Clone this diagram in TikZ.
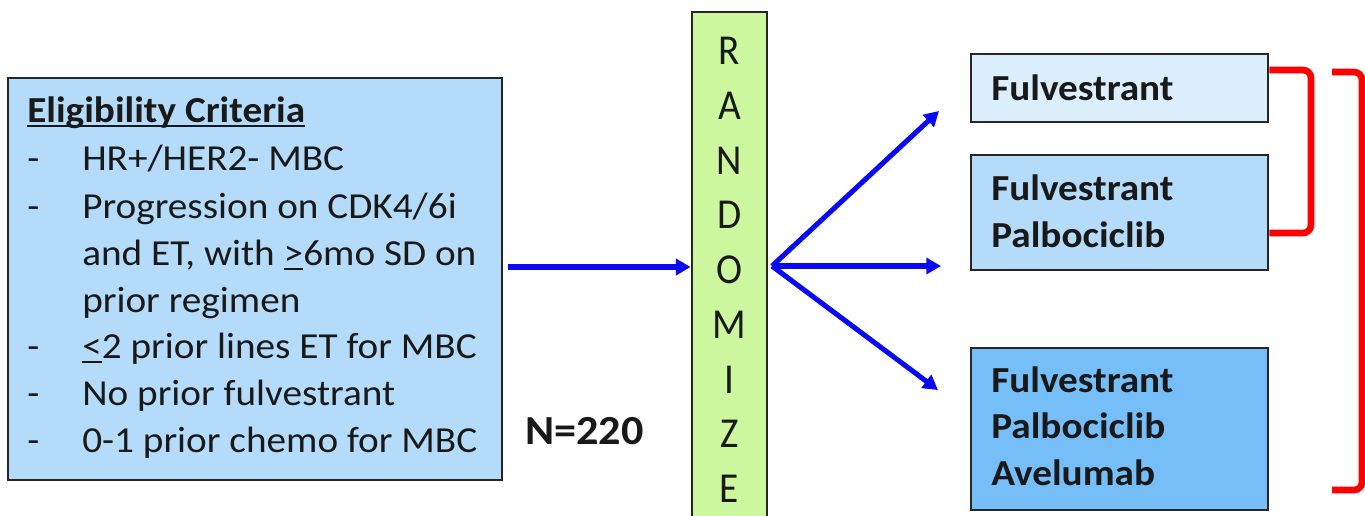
\documentclass[tikz,border=0pt]{standalone}
\usepackage{fontspec}
\setmainfont[FakeStretch=1.07]{Carlito}
\usetikzlibrary{arrows.meta}
\definecolor{eligfill}{HTML}{B4DCFA}
\definecolor{armone}{HTML}{DAEEFC}
\definecolor{armtwo}{HTML}{B4DCFA}
\definecolor{armthree}{HTML}{76BEF8}
\definecolor{randfill}{HTML}{CCF79E}
\definecolor{arrblue}{HTML}{0A0AF0}
\definecolor{brred}{HTML}{FF0000}
\newsavebox{\ulbox}
\newcommand{\thickul}[1]{\sbox{\ulbox}{#1}\leavevmode\rlap{\rule[-3.6pt]{\wd\ulbox}{1.6pt}}\usebox{\ulbox}}
\newcommand{\randletter}[1]{\scalebox{0.86}[1]{\fontsize{32}{36}\selectfont #1}}
\tikzset{
  boxbase/.style={draw=black!85, line width=2.1pt, rectangle, inner sep=0pt},
  bodytxt/.style={font=\fontsize{27.5}{33}\selectfont, anchor=base west, inner sep=0pt, text=black!90},
  armtxt/.style={font=\fontsize{27.5}{33}\selectfont\bfseries, anchor=base west, inner sep=0pt, text=black!90},
  randtxt/.style={anchor=base, inner sep=0pt, text=black!90},
  bluearrow/.style={draw=arrblue, line width=3.8pt, -{Triangle[length=11pt,width=12pt]}},
  redbracket/.style={draw=brred, line width=5pt, rounded corners=6pt}
}
\begin{document}
\begin{tikzpicture}[x=0.75pt,y=-0.75pt]
\useasboundingbox (0,0) rectangle (1365,515);
% eligibility box
\node[boxbase, fill=eligfill, minimum width=370.5pt, minimum height=301.5pt] (elig) at (255,279) {};
\node[bodytxt] (title) at (27,122) {\thickul{\textbf{Eligibility Criteria}}};
\node[bodytxt] (d1) at (27,170) {-};
\node[bodytxt] (c1) at (82,170) {HR+/HER2- MBC};
\node[bodytxt] (d2) at (27,218) {-};
\node[bodytxt] (c2a) at (82,218) {Progression on CDK4/6i};
\node[bodytxt] (c2b) at (82,265) {and ET, with \thickul{>}6mo SD on};
\node[bodytxt] (c2c) at (82,312) {prior regimen};
\node[bodytxt] (d3) at (27,358) {-};
\node[bodytxt] (c3) at (82,358) {\thickul{<}2 prior lines ET for MBC};
\node[bodytxt] (d4) at (27,405) {-};
\node[bodytxt] (c4) at (82,405) {No prior fulvestrant};
\node[bodytxt] (d5) at (27,452) {-};
\node[bodytxt] (c5) at (82,452) {0-1 prior chemo for MBC};
% N
\node[armtxt, font=\fontsize{31}{36}\selectfont\bfseries] (n) at (525,444) {N=220};
% randomize
\node[boxbase, fill=randfill, minimum width=56.25pt, minimum height=388.5pt] (rand) at (729.5,271) {};
\node[randtxt] (r0) at (729.5,64) {\randletter{R}};
\node[randtxt] (r1) at (729.5,119) {\randletter{A}};
\node[randtxt] (r2) at (729.5,174) {\randletter{N}};
\node[randtxt] (r3) at (729.5,228) {\randletter{D}};
\node[randtxt] (r4) at (729.5,283) {\randletter{O}};
\node[randtxt] (r5) at (729.5,338) {\randletter{M}};
\node[randtxt] (r6) at (729.5,393) {\randletter{I}};
\node[randtxt] (r7) at (729.5,447) {\randletter{Z}};
\node[randtxt] (r8) at (729.5,502) {\randletter{E}};
% arms
\node[boxbase, fill=armone, minimum width=222.75pt, minimum height=51pt] (arm1) at (1119.5,88) {};
\node[armtxt] (a1) at (991,100) {Fulvestrant};
\node[boxbase, fill=armtwo, minimum width=222.75pt, minimum height=86.25pt] (arm2) at (1119.5,212.5) {};
\node[armtxt] (a2a) at (991,200) {Fulvestrant};
\node[armtxt] (a2b) at (991,247) {Palbociclib};
\node[boxbase, fill=armthree, minimum width=222.75pt, minimum height=121.5pt] (arm3) at (1119.5,429) {};
\node[armtxt] (a3a) at (991,392) {Fulvestrant};
\node[armtxt] (a3b) at (991,438) {Palbociclib};
\node[armtxt] (a3c) at (991,485) {Avelumab};
% connectors
\coordinate (s0) at (508,267);
\draw[bluearrow] (s0) -- (rand.west |- s0);
\coordinate (f0) at (772,266);
\coordinate (t1) at (939,111);
\coordinate (t2) at (941,266);
\coordinate (t3) at (938,390);
\draw[bluearrow] (f0) -- (t1);
\draw[bluearrow] (f0) -- (t2);
\draw[bluearrow] (f0) -- (t3);
% brackets
\coordinate (k1) at (1311,70);
\coordinate (k2) at (1311,233);
\draw[redbracket] (arm1.east |- k1) -- (k1) -- (k2) -- (arm2.east |- k2);
\coordinate (g1) at (1362,72);
\coordinate (g2) at (1362,490);
\draw[redbracket] (1332,72) -- (g1) -- (g2) -- (1332,490);
\end{tikzpicture}
\end{document}
